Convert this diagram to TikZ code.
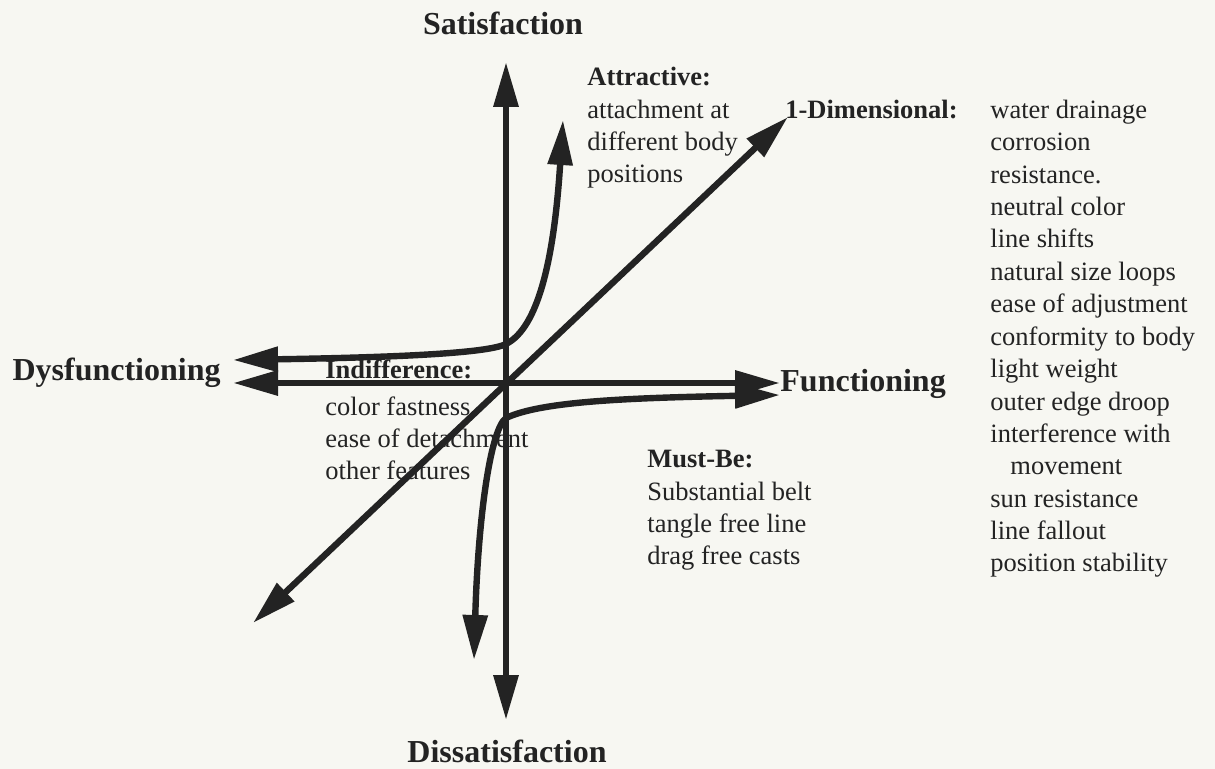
\documentclass[tikz,border=0pt]{standalone}
\usepackage{fontspec}
\setmainfont{Liberation Serif}
\usetikzlibrary{arrows.meta}
\definecolor{papercolor}{HTML}{F7F7F2}
\definecolor{inkcolor}{HTML}{232323}

\tikzset{
  twohead/.style={draw=inkcolor, line width=3.2pt,
    {Triangle[length=22.5pt,width=12pt]}-{Triangle[length=22.5pt,width=12pt]}},
  poletext/.style={font=\fontsize{16}{19}\selectfont\bfseries, text=inkcolor, inner sep=0pt},
  listtext/.style={font=\fontsize{13.25}{16.2}\selectfont, text=inkcolor, inner sep=0pt,
    align=left, anchor=base west},
}

\begin{document}
\begin{tikzpicture}[x=0.5pt, y=-0.5pt]

  % Paper
  \fill[papercolor] (0,0) rectangle (1215,769);
  \useasboundingbox (0,0) rectangle (1215,769);

  % Arrow tips
  \coordinate (sat-tip) at (506,62);
  \coordinate (dissat-tip) at (506,720);
  \coordinate (dysf-tip) at (233,383);
  \coordinate (func-tip) at (780,383);
  \coordinate (low-tip) at (253,623);
  \coordinate (oned-tip) at (788,117);
  \coordinate (attr-left) at (233,360);
  \coordinate (attr-top) at (563,120);
  \coordinate (must-low) at (474,660);
  \coordinate (must-right) at (780,395);

  % Pole labels
  \node[poletext, anchor=base] (sat) at (503,35) {Satisfaction};
  \node[poletext, anchor=base] (dissat) at (507,762) {Dissatisfaction};
  \node[poletext, anchor=base east] (dysf) at (221,381) {Dysfunctioning};
  \node[poletext, anchor=base west] (func) at (780,392) {Functioning};

  % Quality categories (base = last line)
  \node[listtext] (attr) at (587,183) {\textbf{Attractive:}\\attachment at\\different body\\positions};
  \node[listtext] (oned) at (785,119) {\textbf{1-Dimensional:}};
  \node[listtext] (onedlist) at (990,572) {water drainage\\corrosion\\resistance.\\neutral color\\line shifts\\natural size loops\\ease of adjustment\\conformity to body\\light weight\\outer edge droop\\interference with\\\hspace*{10pt}movement\\sun resistance\\line fallout\\position stability};
  \node[listtext] (indiff) at (325,379) {\textbf{Indifference:}};
  \node[listtext] (indifflist) at (325,480) {color fastness\\ease of detachment\\other features};
  \node[listtext] (must) at (647,565) {\textbf{Must-Be:}\\Substantial belt\\tangle free line\\drag free casts};

  % Axes and diagonal
  \draw[twohead] (dysf-tip) -- (func-tip);
  \draw[twohead] (sat-tip) -- (dissat-tip);
  \draw[twohead] (low-tip) -- (oned-tip);

  % Attractive and must-be curves
  \draw[twohead] (attr-left) .. controls (420,357) and (490,352) .. (506,344)
    .. controls (538,328) and (554,260) .. (attr-top);
  \draw[twohead] (must-low) .. controls (478,520) and (490,430) .. (506,418)
    .. controls (540,402) and (620,398) .. (must-right);

\end{tikzpicture}
\end{document}
